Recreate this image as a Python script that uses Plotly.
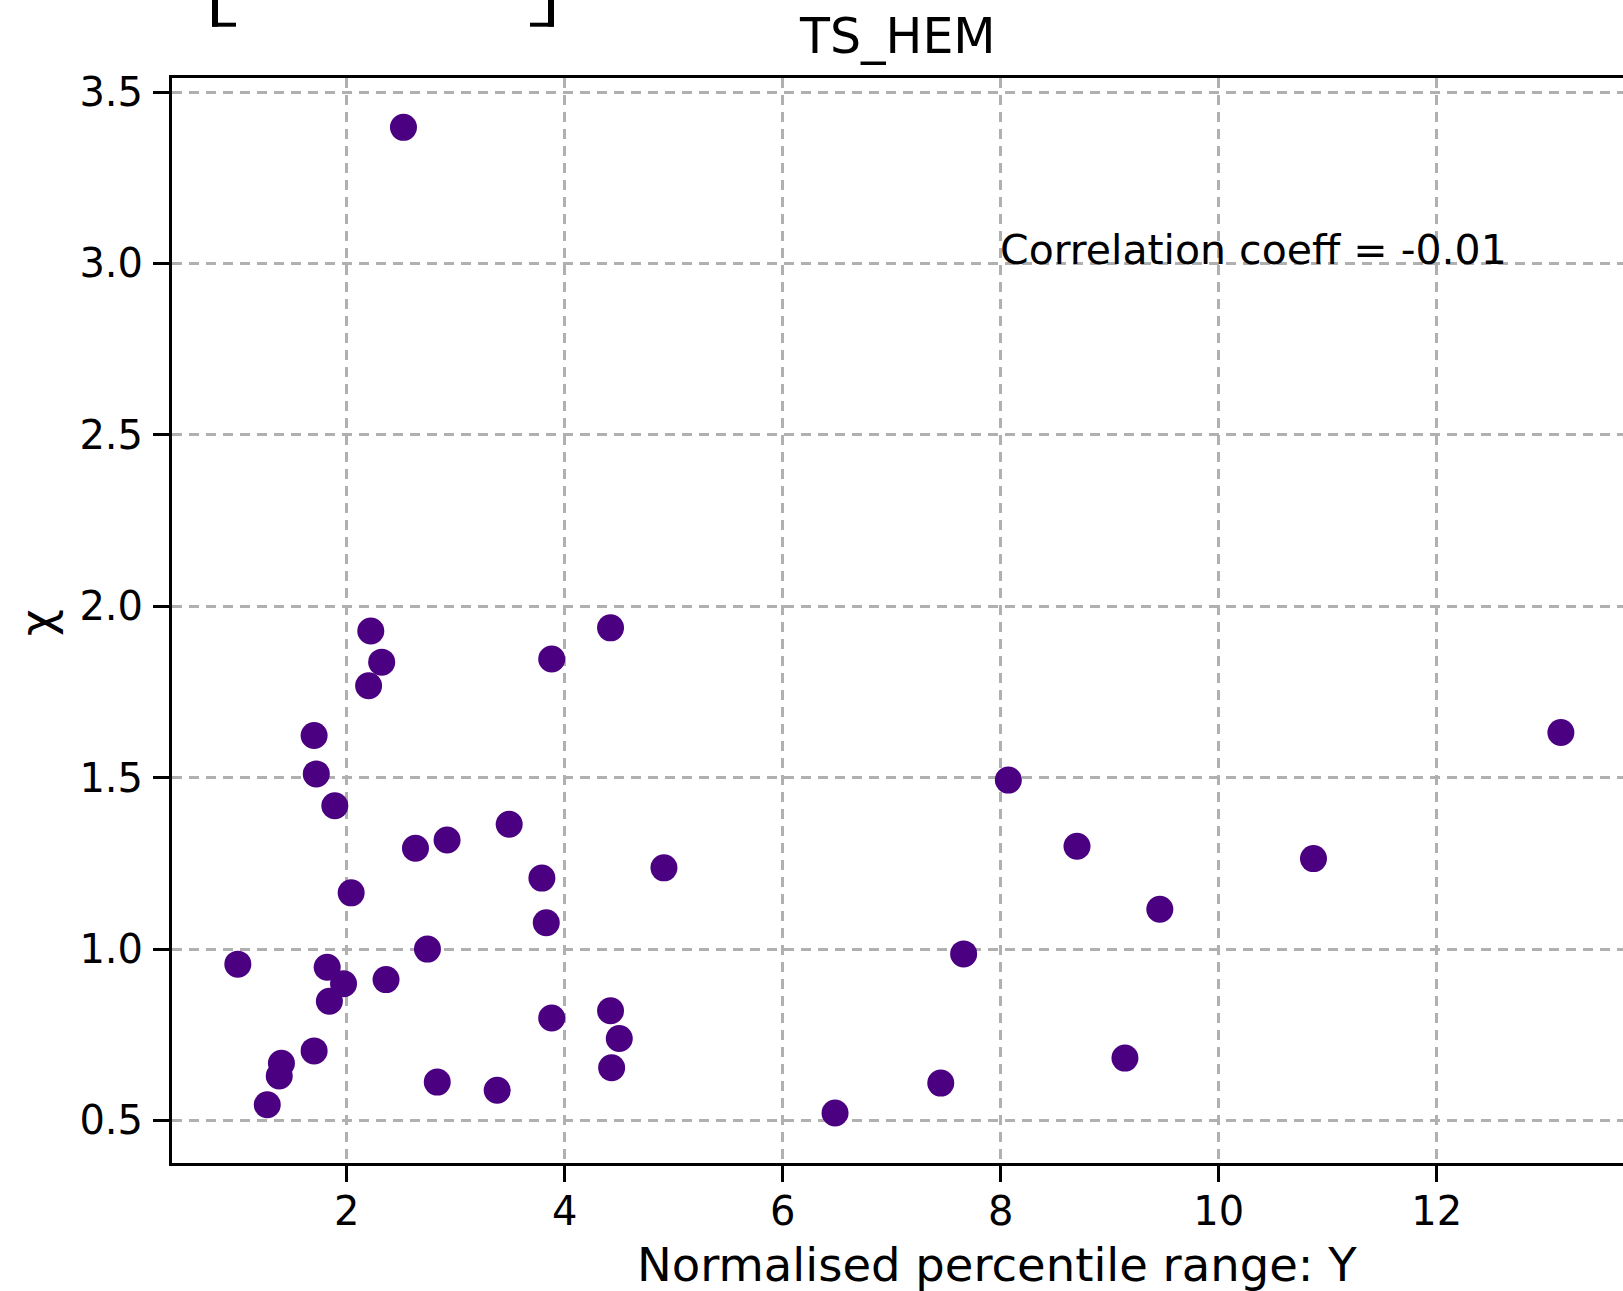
import plotly.graph_objects as go

# Data
norm_range_y = [2.52, 2.22, 2.32, 2.20, 4.42, 3.88, 1.70, 1.72, 1.89, 2.63,
                2.92, 3.49, 3.79, 3.83, 4.91, 2.04, 2.74, 1.00, 1.82, 1.97,
                1.84, 2.36, 4.42, 3.88, 4.50, 4.43, 1.70, 1.40, 1.38, 1.27,
                2.83, 3.38, 6.48, 7.45, 7.66, 8.07, 8.70, 9.46, 9.14, 10.87,
                13.14]
chi_vals = [3.397, 1.928, 1.837, 1.768, 1.937, 1.846, 1.623, 1.511, 1.418, 1.294,
            1.318, 1.364, 1.207, 1.077, 1.237, 1.164, 1.000, 0.956, 0.947, 0.899,
            0.848, 0.911, 0.820, 0.799, 0.739, 0.654, 0.703, 0.667, 0.630, 0.546,
            0.612, 0.588, 0.522, 0.609, 0.986, 1.493, 1.300, 1.116, 0.682, 1.264,
            1.632]

title_text = "TS_HEM"
x_label = "Normalised percentile range: Y"
y_label = "χ"
corr_text = "Correlation coeff = -0.01"
x_ticks = [2, 4, 6, 8, 10, 12]
y_ticks = [0.5, 1.0, 1.5, 2.0, 2.5, 3.0, 3.5]

W, H = 1623, 1291
L, R, T, B = 172, 0, 78, 128
pw, ph = W - L - R, H - T - B

def px_x(p):
    return (p - L) / pw

def px_y(p):
    return (H - B - p) / ph

FONT = "DejaVu Sans"
GRID = "#b0b0b0"

fig = go.Figure()
fig.add_trace(go.Scatter(
    x=norm_range_y, y=chi_vals, mode="markers",
    marker=dict(color="#4b0082", size=27, line=dict(width=0)),
    showlegend=False,
))

axis_common = dict(
    showline=True, linecolor="black", linewidth=3,
    ticks="outside", ticklen=16, tickwidth=3, tickcolor="black",
    showgrid=True, gridcolor=GRID, gridwidth=2.5, griddash="10px,7px",
    zeroline=False, layer="above traces",
    tickfont=dict(family=FONT, size=40, color="black"),
)

fig.update_xaxes(range=[0.396, 13.71], tickvals=x_ticks, mirror=True,
                 ticklabelstandoff=-5, **axis_common)
fig.update_yaxes(range=[0.376, 3.541], tickvals=y_ticks, tickformat=".1f",
                 ticklabelstandoff=2, **axis_common)

annotations = [
    dict(text=corr_text, x=8.0, y=3.04, xref="x", yref="y", xshift=-3,
         xanchor="left", yanchor="middle", showarrow=False,
         font=dict(family=FONT, size=41, color="black")),
    dict(text=x_label, x=px_x(997), y=px_y(1265), xref="paper", yref="paper",
         xanchor="center", yanchor="middle", showarrow=False,
         font=dict(family=FONT, size=46.5, color="black")),
    dict(text=y_label, x=px_x(37), y=px_y(623), xref="paper", yref="paper",
         xanchor="center", yanchor="middle", showarrow=False, textangle=-90,
         font=dict(family=FONT, size=46.5, color="black")),
    dict(text=title_text, x=0.5, y=px_y(37), xref="paper", yref="paper",
         xanchor="center", yanchor="middle", showarrow=False,
         font=dict(family=FONT, size=49, color="black")),
]

# partially visible bracket marks at the top-left (clipped content above)
def rect(x0, x1, y0, y1):
    return dict(type="rect", xref="paper", yref="paper",
                x0=px_x(x0), x1=px_x(x1), y0=px_y(y1), y1=px_y(y0),
                fillcolor="black", line=dict(width=0))

shapes = [
    rect(212, 218, -2, 26.7), rect(212, 236, 22.7, 26.7),
    rect(548, 554, -2, 26.7), rect(530, 554, 22.7, 26.7),
]

fig.update_layout(
    width=W, height=H,
    margin=dict(l=L, r=R, t=T, b=B),
    paper_bgcolor="white", plot_bgcolor="white",
    annotations=annotations, shapes=shapes,
    font=dict(family=FONT, color="black"),
)

fig.write_html("out.html")
